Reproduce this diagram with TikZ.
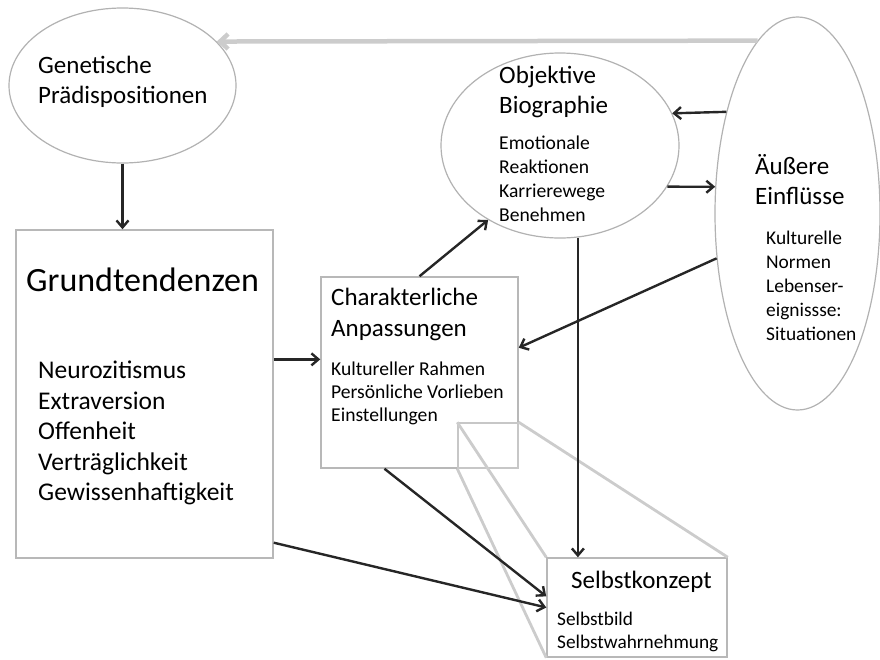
\documentclass[tikz,border=0pt]{standalone}
\usepackage{fontspec}
\setmainfont{Carlito}
\usetikzlibrary{arrows.meta, positioning, shapes.geometric}

\begin{document}
\begin{tikzpicture}[x=1pt, y=-1pt, >={Straight Barb[length=7pt, width=12pt]},
    bubble/.style={ellipse, draw=black!30, line width=1.2pt, fill=white, inner sep=0pt},
    panel/.style={rectangle, draw=black!28, line width=1.5pt, fill=white, inner sep=0pt},
    lupe/.style={rectangle, draw=black!22, line width=1.5pt, inner sep=0pt},
    head/.style={anchor=west, align=left, inner sep=0pt, text=black,
      font=\fontsize{25}{30}\selectfont},
    items/.style={anchor=west, align=left, inner sep=0pt, text=black,
      font=\fontsize{19.5}{23.5}\selectfont},
    link/.style={->, line width=2.4pt, black!85},
    feedback/.style={-{Straight Barb[length=8pt, width=15pt]}, line width=4.5pt, black!20},
    zoomline/.style={black!20, line width=2.8pt}]

  \useasboundingbox (0,0) rectangle (880,659);

  % ellipses
  \node[bubble, minimum width=227pt, minimum height=155pt] (gen) at (122.5,85.5) {};
  \node[bubble, minimum width=238pt, minimum height=185pt] (obj) at (560,145.5) {};
  \node[bubble, minimum width=165pt, minimum height=393pt] (aus) at (797.5,213.5) {};

  % boxes
  \node[panel, minimum width=257pt, minimum height=328pt] (grund) at (144.5,394) {};
  \node[panel, minimum width=197pt, minimum height=191pt] (char) at (419.5,372.5) {};
  \node[panel, minimum width=180pt, minimum height=99pt] (selbst) at (637,607.5) {};
  \node[lupe, minimum width=60pt, minimum height=45pt] (detail) at (488,445.5) {};

  % texts
  \node[head] (genT) at (38,82) {Genetische\\Prädispositionen};
  \node[head, font=\fontsize{34}{40}\selectfont] (grundT) at (26,280) {Grundtendenzen};
  \node[items, font=\fontsize{25.5}{30.5}\selectfont] (grundL) at (38,433)
    {Neurozitismus\\Extraversion\\Offenheit\\Verträglichkeit\\Gewissenhaftigkeit};
  \node[head, font=\fontsize{25}{31}\selectfont] (charT) at (331,314.5)
    {Charakterliche\\Anpassungen};
  \node[items, font=\fontsize{19.6}{23}\selectfont] (charL) at (331,393)
    {Kultureller Rahmen\\Persönliche Vorlieben\\Einstellungen};
  \node[head] (objT) at (499,92) {Objektive\\Biographie};
  \node[items, font=\fontsize{19.6}{24}\selectfont] (objL) at (499,179)
    {Emotionale\\Reaktionen\\Karrierewege\\Benehmen};
  \node[head] (ausT) at (755,180) {Äußere\\Einflüsse};
  \node[items, font=\fontsize{19.4}{24}\selectfont] (ausL) at (766,285.5)
    {Kulturelle\\Normen\\Lebenser-\\eignissse:\\Situationen};
  \node[head] (selbstT) at (571,582) {Selbstkonzept};
  \node[items, font=\fontsize{19.3}{23}\selectfont] (selbstL) at (557,631.5)
    {Selbstbild\\Selbstwahrnehmung};

  % callout lines
  \draw[zoomline] (detail.north west) -- (selbst.north west);
  \draw[zoomline] (detail.south west) -- (selbst.south west);
  \draw[zoomline] (detail.north east) -- (selbst.north east);

  % connections
  \draw[feedback] (aus.103) -- (gen.25);
  \draw[link] (gen.south) -- (gen.south |- grund.north);
  \draw[link] (grund.15) -- (grund.15 -| char.west);
  \draw[link] (aus.125.2) -- (obj.16.3);
  \draw[link] (obj.-21.3) -- (aus.162);
  \draw[link] (aus.209) -- (char.14);
  \draw[link] (char.north) -- (obj.226.4);
  \draw[link] (obj.281.8) -- (obj.281.8 |- selbst.north);
  \draw[link] (char.250.7) -- (selbst.173.4);
  \draw[link] (grund.311) -- (selbst.west);

\end{tikzpicture}
\end{document}
